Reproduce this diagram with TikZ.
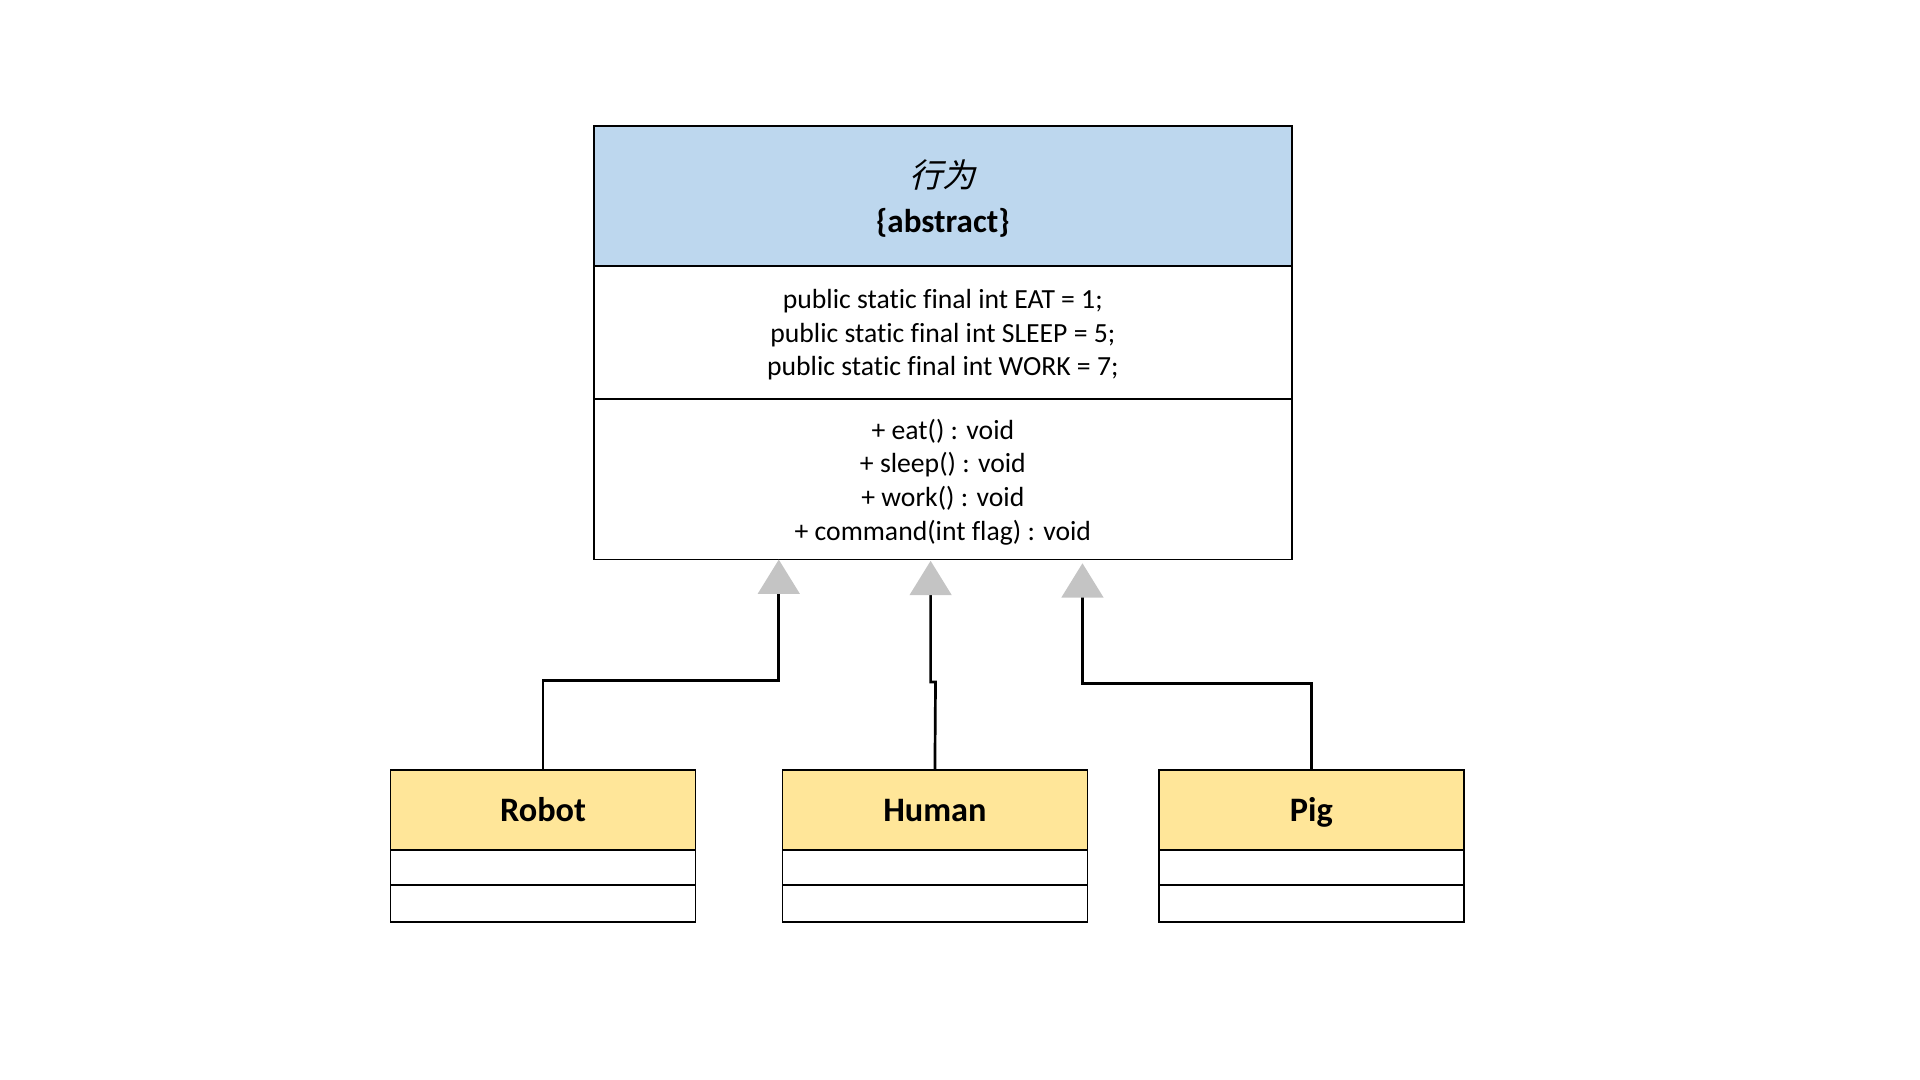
\documentclass[tikz,border=0pt]{standalone}
\usepackage{fontspec}
\setmainfont{Carlito}[Ligatures=NoCommon]
\newfontfamily\cjk[FakeSlant=0.25]{Noto Sans CJK SC}
\usetikzlibrary{arrows.meta}
\definecolor{hdrblue}{HTML}{BDD7EE}
\definecolor{clsyellow}{HTML}{FFE699}
\definecolor{trigray}{HTML}{C4C4C4}
\tikzset{
  sect/.style={draw=black, line width=1.4pt, minimum width=570pt, inner sep=0pt, fill=white},
  sectxt/.style={inner sep=0pt, align=center},
  cls/.style={draw=black, line width=1.4pt, minimum width=249pt, inner sep=0pt, align=center},
  clsname/.style={text height=19pt, text depth=0pt},
  conn/.style={draw=black, line width=2.2pt, -{Triangle[width=34pt,length=28pt,color=trigray]}, shorten >=0pt},
}
\begin{document}
\begin{tikzpicture}[x=1pt,y=-1pt]
\useasboundingbox (0,0) rectangle (1568,882);
% abstract class
\node[sect, fill=hdrblue, minimum height=114pt] (hdr) at (770,160) {};
\node[sectxt, font=\fontsize{27}{37}\selectfont] (hdrtxt) at (770,162)
  {{\cjk 行为}\\{\bfseries \{abstract\}}};
\node[sect, minimum height=109pt] (attr) at (770,271.5) {};
\node[sectxt, font=\fontsize{22.6}{27.5}\selectfont] (attrtxt) at (770,273.5)
  {public static final int EAT = 1;\\public static final int SLEEP = 5;\\public static final int WORK = 7;};
\node[sect, minimum height=131pt] (meth) at (770,391.5) {};
\node[sectxt, font=\fontsize{22.6}{27.5}\selectfont] (methtxt) at (770,393.5)
  {+ eat() : void\\+ sleep() : void\\+ work() : void\\+ command(int flag) : void};
% subclasses
\foreach \nm/\lbl/\cx in {robot/Robot/443.5, human/Human/763.5, pig/Pig/1071}{
  \node[cls, clsname, fill=clsyellow, minimum height=65pt, font=\fontsize{28}{34}\selectfont\bfseries] (\nm) at (\cx,661.5) {\lbl};
  \node[cls, fill=white, minimum height=29pt] (\nm2) at (\cx,708.5) {};
  \node[cls, fill=white, minimum height=30pt] (\nm3) at (\cx,738) {};
}
% arrow ends
\coordinate (t1) at (636,457);
\coordinate (t2) at (760,458);
\coordinate (t3) at (884,460);
\coordinate (k2) at (764,557);
% connectors
\draw[conn] (robot.north) -- (robot.north |- 0,556) -| (t1);
\draw[conn] (human.north) -- (k2) -- (t2 |- k2) -- (t2);
\draw[conn] (pig.north) -- (pig.north |- 0,558) -| (t3);
\end{tikzpicture}
\end{document}
